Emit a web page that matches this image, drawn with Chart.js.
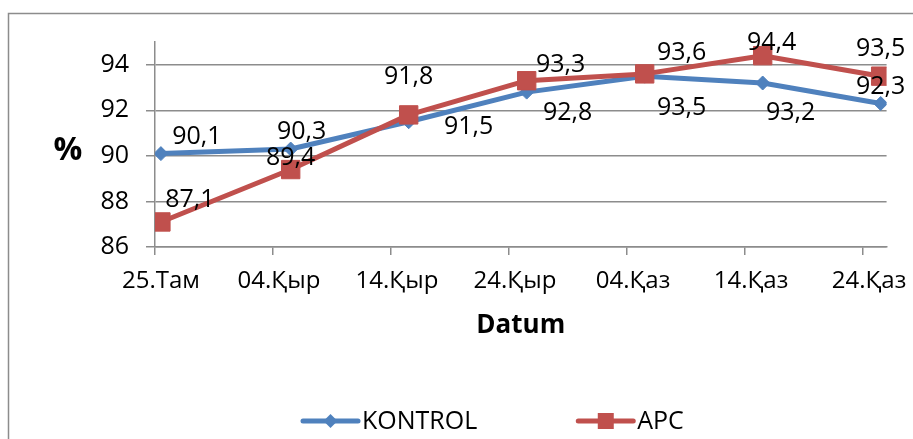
<!DOCTYPE html>
<html>
<head>
<meta charset="utf-8">
<script src="https://cdn.jsdelivr.net/npm/chart.js@4.4.1/dist/chart.umd.min.js"></script>
<style>
  html, body { margin: 0; padding: 0; background: #fff; }
</style>
</head>
<body>
<canvas id="grafik" width="913" height="439"></canvas>
<script>
// etiketki osi X (kazhdye 10 dnej ot 25.Там)
const tickLabels = ['25.Там', '04.Қыр', '14.Қыр', '24.Қыр', '04.Қаз', '14.Қаз', '24.Қаз'];
// dni izmerenij, schitaya ot 25.Там
const sampleDays = [0, 11, 21, 31, 41, 51, 61];
const kontrolValues = [90.1, 90.3, 91.5, 92.8, 93.5, 93.2, 92.3];
const apcValues = [87.1, 89.4, 91.8, 93.3, 93.6, 94.4, 93.5];
const yTickValues = [86, 88, 90, 92, 94];

// sdvig podpisej znachenij otnositelno tochek (px)
const kontrolLabelShift = [[36, -17], [11, -17], [60, 5], [41, 21], [37, 32], [28, 30], [0, -17]];
const apcLabelShift = [[29, -22], [0, -12], [0, -38], [34, -16], [37, -21], [9, -13], [0, -27]];

const gridColor = '#8c8c8c';
const textFont = '"Open Sans", sans-serif';

document.addEventListener('DOMContentLoaded', function() {
    Chart.defaults.font.family = textFont;
    Chart.defaults.color = '#000';

    // ramka vokrug diagrammy i znak %
    const frame = {
        id: 'frame',
        beforeDraw(chart) {
            const ctx = chart.ctx;
            ctx.save();
            ctx.fillStyle = '#fff';
            ctx.fillRect(0, 0, chart.width, chart.height);
            ctx.strokeStyle = gridColor;
            ctx.lineWidth = 1.5;
            ctx.strokeRect(8.5, 13.5, chart.width + 20, chart.height + 20);
            ctx.restore();
        },
        afterDraw(chart) {
            const ctx = chart.ctx;
            const area = chart.chartArea;
            ctx.save();
            ctx.font = 'bold 32px ' + textFont;
            ctx.fillStyle = '#000';
            ctx.textAlign = 'center';
            ctx.textBaseline = 'middle';
            ctx.fillText('%', area.left - 87, chart.scales.y.getPixelForValue(90.2));
            ctx.restore();
        }
    };

    // podpisi znachenij (s zapyatoj)
    const valueLabels = {
        id: 'valueLabels',
        afterDatasetsDraw(chart) {
            const ctx = chart.ctx;
            ctx.save();
            ctx.font = '25px ' + textFont;
            ctx.fillStyle = '#000';
            ctx.textAlign = 'center';
            ctx.textBaseline = 'middle';
            chart.data.datasets.forEach(function(ds, di) {
                const meta = chart.getDatasetMeta(di);
                meta.data.forEach(function(pt, i) {
                    const shift = ds.labelShift[i];
                    const txt = ds.data[i].y.toFixed(1).replace('.', ',');
                    ctx.fillText(txt, pt.x + shift[0], pt.y + shift[1]);
                });
            });
            ctx.restore();
        }
    };

    // legenda vnizu: liniya s markerom + tekst
    const bottomLegend = {
        id: 'bottomLegend',
        afterDraw(chart) {
            const ctx = chart.ctx;
            const y = 421;
            let x = 303;
            ctx.save();
            ctx.font = '25px ' + textFont;
            ctx.textBaseline = 'middle';
            ctx.textAlign = 'left';
            chart.data.datasets.forEach(function(ds) {
                ctx.strokeStyle = ds.borderColor;
                ctx.lineWidth = 5;
                ctx.lineCap = 'round';
                ctx.beginPath();
                ctx.moveTo(x, y);
                ctx.lineTo(x + 55, y);
                ctx.stroke();
                ctx.fillStyle = ds.borderColor;
                const cx = x + 27.5;
                ctx.beginPath();
                if (ds.pointStyle === 'rectRot') {
                    ctx.moveTo(cx - 7, y);
                    ctx.lineTo(cx, y - 7);
                    ctx.lineTo(cx + 7, y);
                    ctx.lineTo(cx, y + 7);
                    ctx.closePath();
                } else {
                    ctx.rect(cx - 8, y - 8, 16, 16);
                }
                ctx.fill();
                ctx.fillStyle = '#000';
                ctx.fillText(ds.label, x + 59, y + 1);
                x += 59 + ctx.measureText(ds.label).width + 101;
            });
            ctx.restore();
        }
    };

    const canvas = document.getElementById('grafik');
    new Chart(canvas.getContext('2d'), {
        type: 'line',
        data: {
            datasets: [{
                label: 'KONTROL',
                data: sampleDays.map(function(d, i) { return {x: d, y: kontrolValues[i]}; }),
                borderColor: '#4F81BD',
                backgroundColor: '#4F81BD',
                borderWidth: 5,
                pointStyle: 'rectRot',
                pointRadius: 7,
                pointBorderWidth: 1,
                borderJoinStyle: 'round',
                tension: 0,
                order: 1,
                labelShift: kontrolLabelShift
            }, {
                label: 'APC',
                data: sampleDays.map(function(d, i) { return {x: d, y: apcValues[i]}; }),
                borderColor: '#C0504D',
                backgroundColor: '#C0504D',
                borderWidth: 5,
                pointStyle: 'rect',
                pointRadius: 13,
                pointBorderWidth: 1,
                borderJoinStyle: 'round',
                tension: 0,
                order: 0,
                labelShift: apcLabelShift
            }]
        },
        options: {
            responsive: false,
            animation: false,
            devicePixelRatio: 1,
            layout: { padding: { top: 42, right: 23, bottom: 98, left: 0 } },
            plugins: {
                legend: { display: false },
                tooltip: { enabled: false }
            },
            scales: {
                x: {
                    type: 'linear',
                    min: -0.5,
                    max: 61.5,
                    afterBuildTicks: function(scale) {
                        scale.ticks = tickLabels.map(function(_, i) { return {value: -0.5 + 10 * i}; });
                    },
                    afterFit: function(scale) { scale.height = 94; },
                    ticks: {
                        callback: function(v, i) { return tickLabels[i]; },
                        autoSkip: false,
                        maxRotation: 0,
                        labelOffset: 6,
                        padding: 12,
                        font: { size: 24 }
                    },
                    grid: { drawOnChartArea: false, tickLength: 8, color: gridColor, lineWidth: 1.5 },
                    border: { color: gridColor, width: 1.5 },
                    title: { display: true, text: 'Datum', padding: 0, font: { size: 26, weight: 'bold' } }
                },
                y: {
                    min: 86,
                    max: 95,
                    afterBuildTicks: function(scale) {
                        scale.ticks = yTickValues.map(function(v) { return {value: v}; });
                    },
                    afterFit: function(scale) { scale.width = 155; },
                    ticks: {
                        callback: function(v) { return v; },
                        padding: 17,
                        font: { size: 25 }
                    },
                    grid: { tickLength: 9, color: gridColor, lineWidth: 1.5 },
                    border: { color: gridColor, width: 1.5 }
                }
            }
        },
        plugins: [frame, valueLabels, bottomLegend]
    });
});
</script>
</body>
</html>
